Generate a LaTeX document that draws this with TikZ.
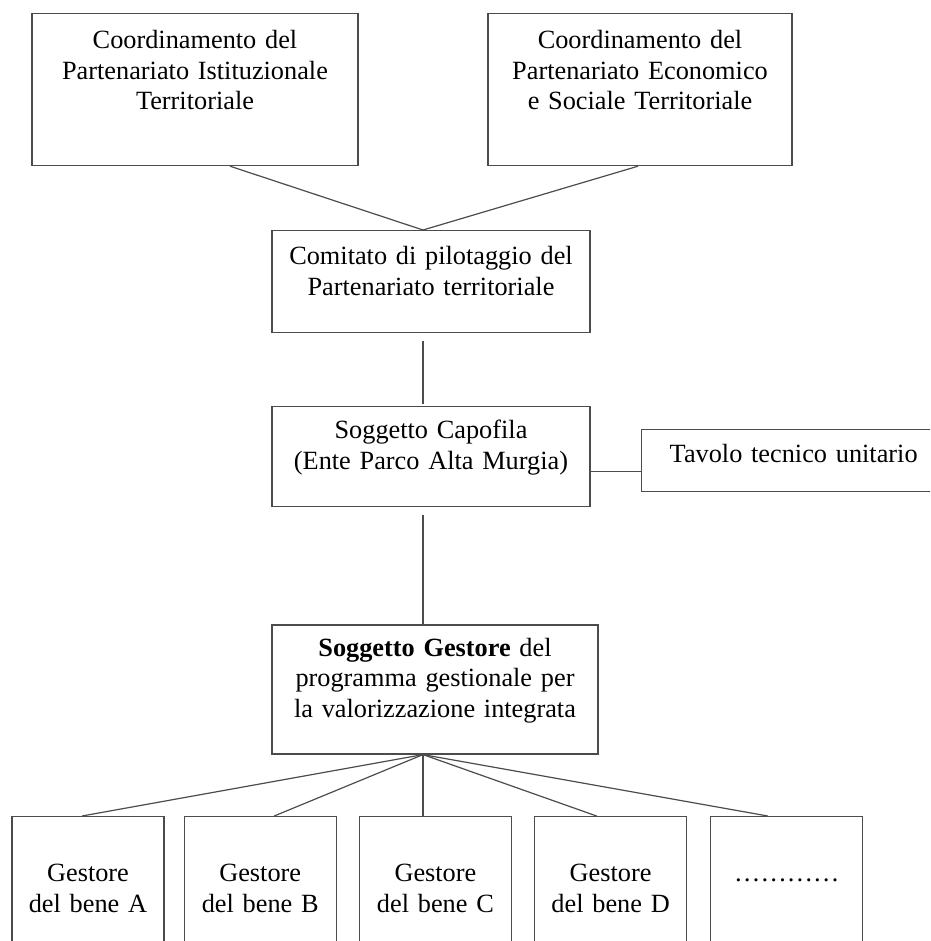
\documentclass[tikz,border=0pt]{standalone}
\usepackage{fontspec}
\setmainfont{Liberation Serif}
\usetikzlibrary{positioning}

\begin{document}
\begin{tikzpicture}[
  x=1pt, y=-1pt,
  box/.style={draw=black!70, line width=1.2pt, align=center, inner sep=0pt, anchor=north,
    font=\fontsize{26.3}{30.5}\selectfont},
  leaf/.style={box, text width=152pt, text height=65pt, text depth=130pt},
  link/.style={draw=black!70, line width=1.2pt}
]
\useasboundingbox (0,0) rectangle (930,941);
\clip (0,0) rectangle (930,941);
\node[box, text width=326pt, text height=35pt, text depth=117pt] (istit) at (195,13) {Coordinamento del\\Partenariato Istituzionale\\Territoriale};
\node[box, text width=304pt, text height=35pt, text depth=117pt] (econ) at (640,13) {Coordinamento del\\Partenariato Economico\\e Sociale Territoriale};
\node[box, text width=318pt, text height=34pt, text depth=68pt] (comitato) at (431,230) {Comitato di pilotaggio del\\Partenariato territoriale};
\node[box, text width=318pt, text height=32pt, text depth=68pt, below=73pt of comitato] (capofila) {Soggetto Capofila\\(Ente Parco Alta Murgia)};
\node[box, text width=305pt, text height=33pt, text depth=29pt, right=50pt of capofila, yshift=-3.5pt] (tavolo) {Tavolo tecnico unitario};
\node[box, text width=326pt, text height=31pt, text depth=98pt, below=117pt of capofila, xshift=4pt] (gestore) {\textbf{Soggetto Gestore} del\\programma gestionale per\\la valorizzazione integrata};
\node[leaf] (beneA) at (88,816) {Gestore\\del bene A};
\node[leaf, right=19pt of beneA] (beneB) {Gestore\\del bene B};
\node[leaf, right=22pt of beneB] (beneC) {Gestore\\del bene C};
\node[leaf, right=22pt of beneC] (beneD) {Gestore\\del bene D};
\node[leaf, right=23pt of beneD] (beneE) {…………};
\draw[link] ([xshift=35pt]istit.south) -- ([xshift=-8pt]comitato.north);
\draw[link] ([xshift=-2pt]econ.south) -- ([xshift=-8pt]comitato.north);
\draw[link, shorten <=8pt, shorten >=2pt] ([xshift=-8pt]comitato.south) -- ([xshift=-8pt]capofila.north);
\coordinate (tj) at ([yshift=-15pt]capofila.east);
\draw[link] (tj) -- (tj -| tavolo.west);
\draw[link, shorten <=8pt] ([xshift=-8pt]capofila.south) -- ([xshift=-12pt]gestore.north);
\coordinate (hub) at ([xshift=-12pt]gestore.south);
\draw[link] (hub) -- (hub |- beneC.north);
\foreach \bene/\dx in {beneA/-6, beneB/14, beneD/-14, beneE/-19}
  \draw[link] (hub) -- ([xshift=\dx pt]\bene.north);
\end{tikzpicture}
\end{document}
